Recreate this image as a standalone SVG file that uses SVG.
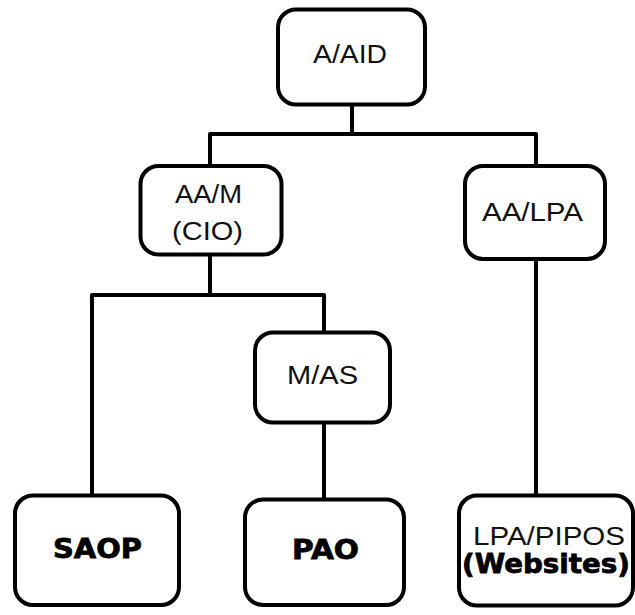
<svg xmlns="http://www.w3.org/2000/svg" width="635" height="615" viewBox="0 0 635 615">
<style>
.box{fill:#fff;stroke:#000;stroke-width:4}
.lbl{font-family:"Liberation Sans",Arial,sans-serif;font-size:25px;fill:#111;text-anchor:middle}
.bld{font-family:"DejaVu Sans","Liberation Sans",sans-serif;font-weight:bold;font-size:27px;fill:#000;text-anchor:middle;stroke:#000;stroke-width:0.8}
.con{fill:none;stroke:#000;stroke-width:4;stroke-linejoin:round}
</style>
<rect width="635" height="615" fill="#fff"/>
<g id="connectors">
<path class="con" d="M352,105 V134"/>
<path class="con" d="M210,166 V134 H536 V166"/>
<path class="con" d="M210,254 V295"/>
<path class="con" d="M92,496 V295 H324 V333"/>
<path class="con" d="M324,422 V500"/>
<path class="con" d="M536,259 V496"/>
</g>
<g id="n-aaid">
<rect class="box" x="278" y="9.5" width="147" height="95" rx="18"/>
<text class="lbl" x="350" y="63" textLength="74" lengthAdjust="spacingAndGlyphs">A/AID</text>
</g>
<g id="n-aam">
<rect class="box" x="140.5" y="166" width="141" height="88.5" rx="18"/>
<text class="lbl" x="208.5" y="203" textLength="67" lengthAdjust="spacingAndGlyphs">AA/M</text>
<text class="lbl" x="207.5" y="239.5" textLength="71" lengthAdjust="spacingAndGlyphs">(CIO)</text>
</g>
<g id="n-aalpa">
<rect class="box" x="465" y="166" width="140" height="93" rx="18"/>
<text class="lbl" x="532.5" y="221" textLength="101" lengthAdjust="spacingAndGlyphs">AA/LPA</text>
</g>
<g id="n-mas">
<rect class="box" x="255" y="332.5" width="135" height="90" rx="18"/>
<text class="lbl" x="322.5" y="384" textLength="71" lengthAdjust="spacingAndGlyphs">M/AS</text>
</g>
<g id="n-saop">
<rect class="box" x="15" y="495.5" width="164" height="109.5" rx="18"/>
<text class="bld" x="97.5" y="558" textLength="89" lengthAdjust="spacingAndGlyphs">SAOP</text>
</g>
<g id="n-pao">
<rect class="box" x="245" y="499.5" width="159" height="105.5" rx="18"/>
<text class="bld" x="325.5" y="559" textLength="67" lengthAdjust="spacingAndGlyphs">PAO</text>
</g>
<g id="n-lpapipos">
<rect class="box" x="459" y="495.5" width="174" height="110" rx="18"/>
<text class="lbl" x="549" y="545" textLength="152" lengthAdjust="spacingAndGlyphs">LPA/PIPOS</text>
<text class="bld" x="546" y="573" textLength="168" lengthAdjust="spacingAndGlyphs">(Websites)</text>
</g>
</svg>
